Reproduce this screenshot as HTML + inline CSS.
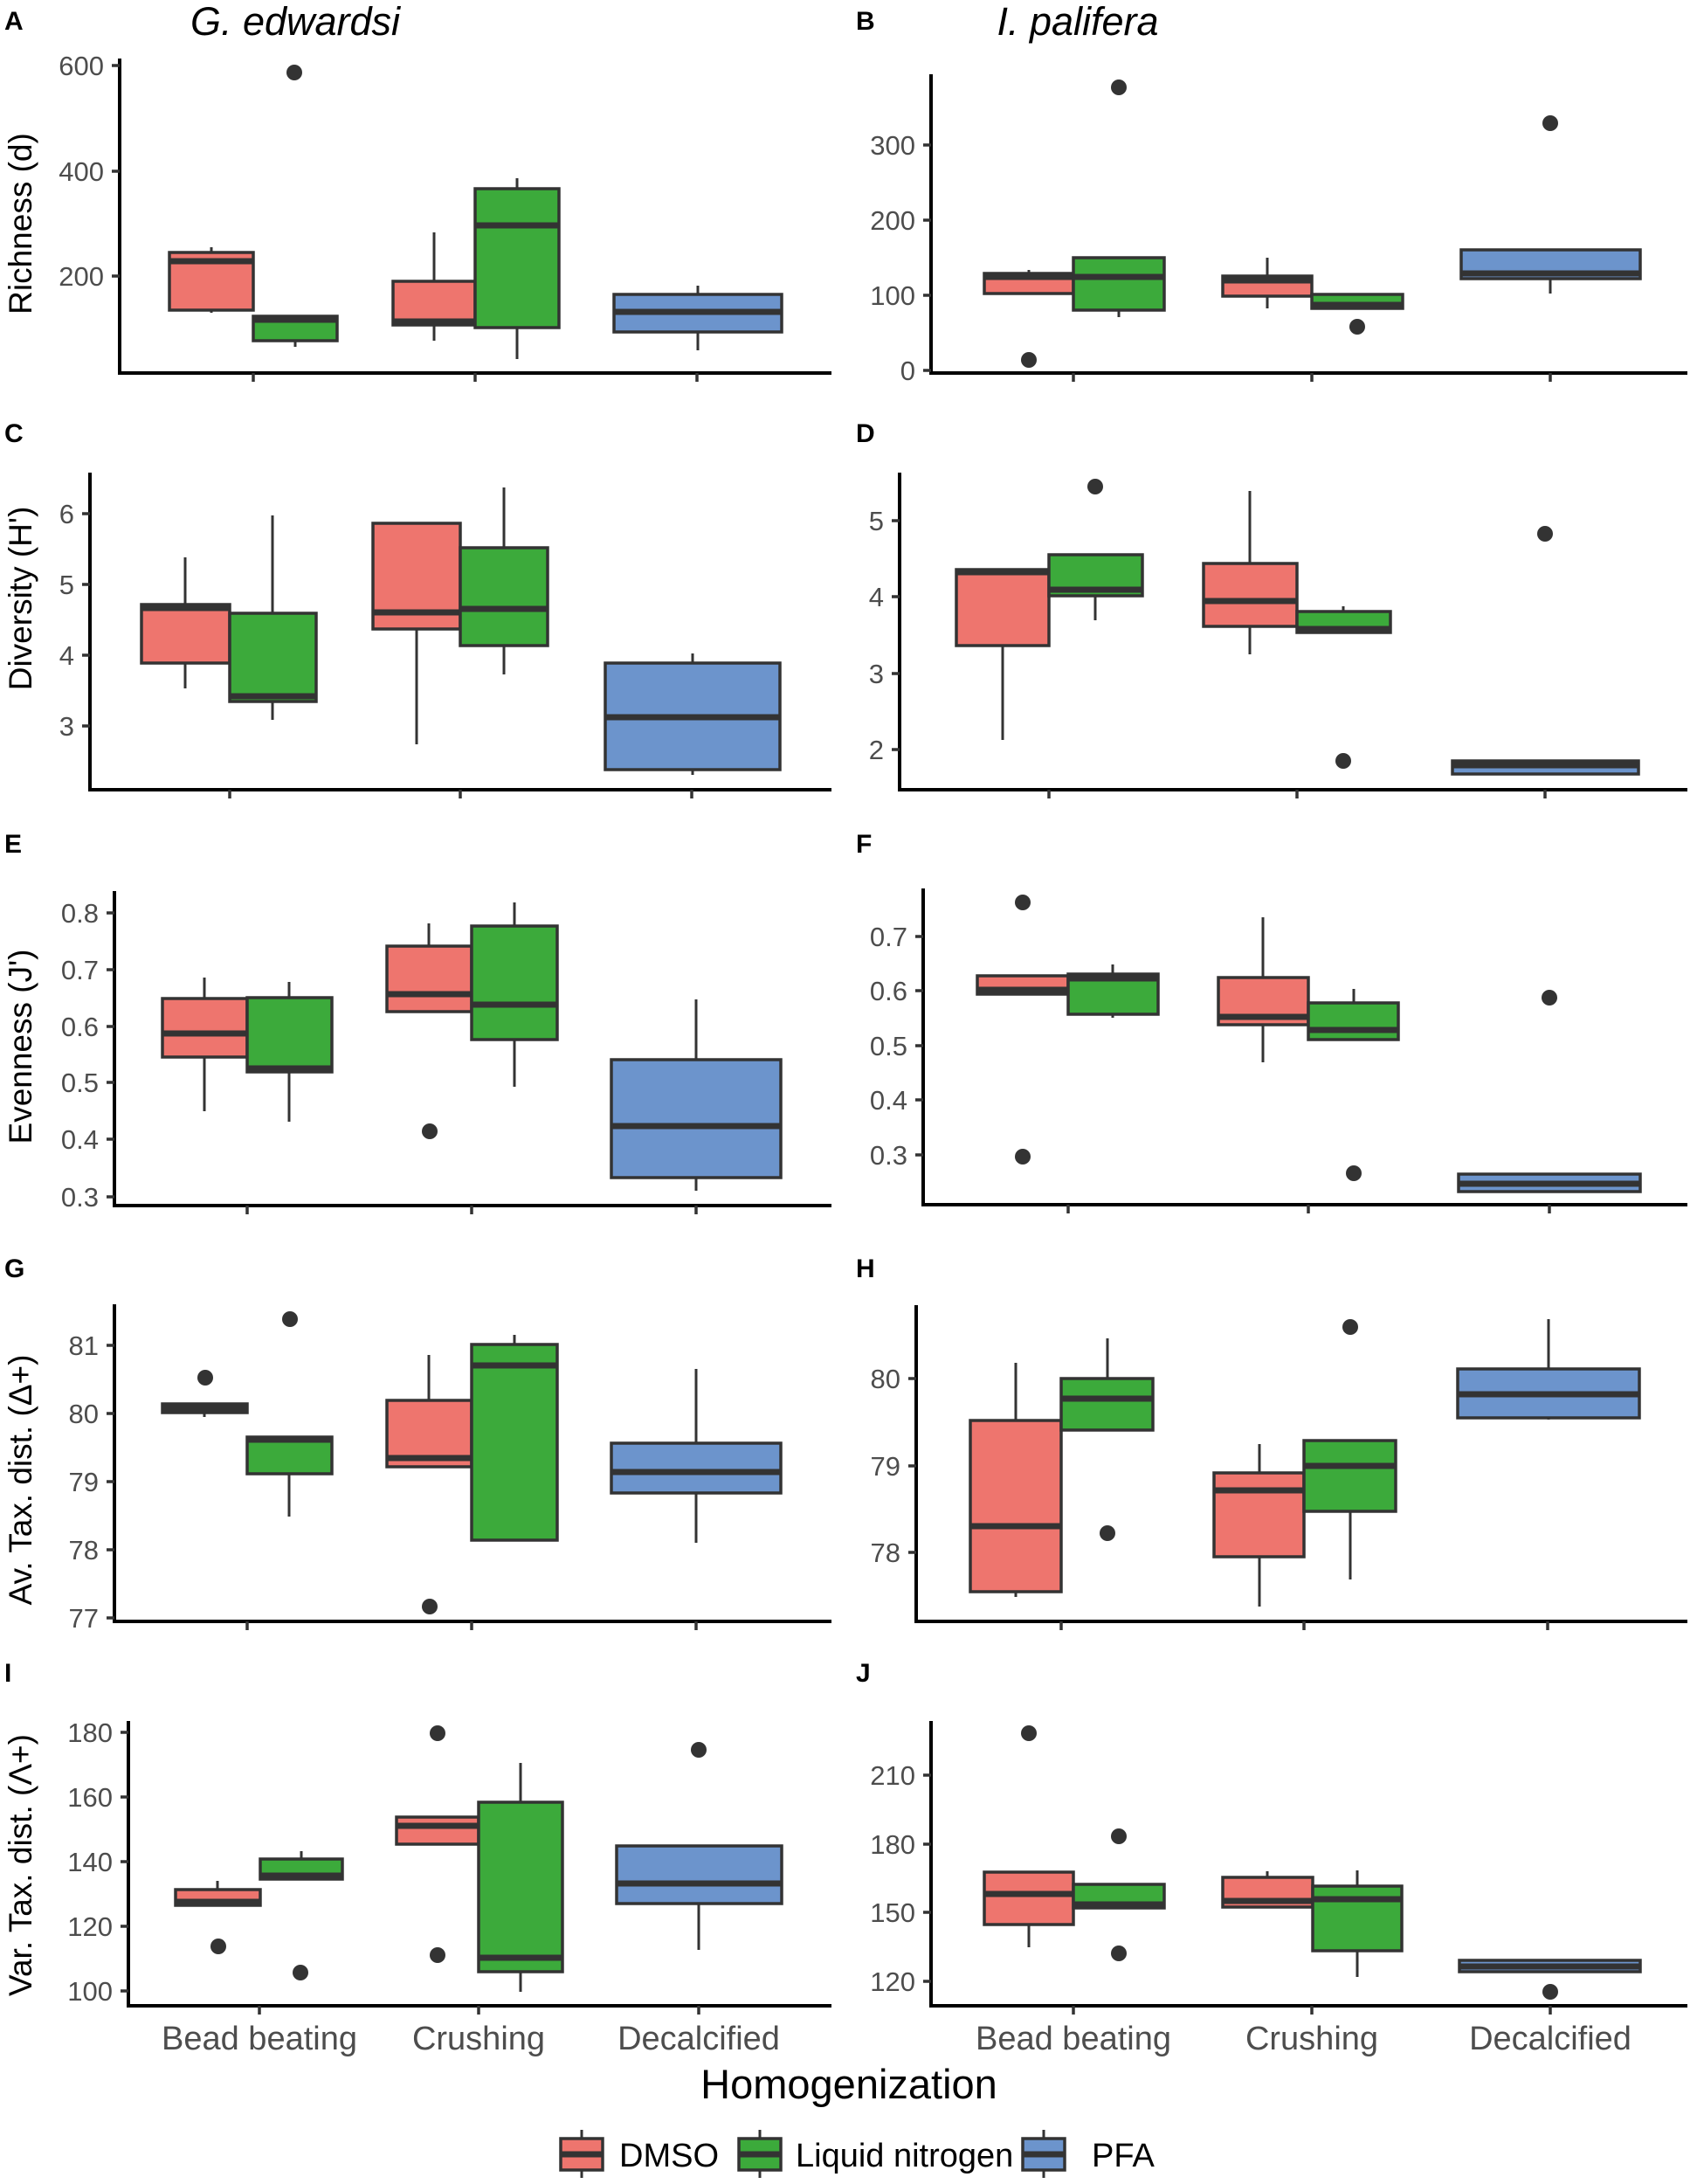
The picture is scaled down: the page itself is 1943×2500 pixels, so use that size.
<!DOCTYPE html>
<html><head><meta charset="utf-8"><style>
html,body{margin:0;padding:0;background:#fff;}
svg{display:block;font-family:"Liberation Sans",sans-serif;}
.t{font-size:31px;fill:#4d4d4d;text-anchor:end;}
.x{font-size:38px;fill:#4d4d4d;text-anchor:middle;}
.yt{font-size:37px;fill:#000;text-anchor:middle;}
.pl{font-size:30px;font-weight:bold;fill:#000;}
.ax{stroke:#000;stroke-width:4;fill:none;}
.tk{stroke:#333;stroke-width:3.5;}
.b{stroke:#333;stroke-width:3.5;}
.w{stroke:#333;stroke-width:3;}
.m{stroke:#333;stroke-width:7;}
.r{fill:#EE756E;}.g{fill:#3CAA3B;}.u{fill:#6C94CC;}
circle{fill:#333;}
</style></head><body>
<svg width="1943" height="2500" viewBox="0 0 1943 2500" xmlns="http://www.w3.org/2000/svg">
<text x="5" y="34" class="pl">A</text>
<text x="980" y="34" class="pl">B</text>
<text x="5" y="506" class="pl">C</text>
<text x="980" y="506" class="pl">D</text>
<text x="5" y="976" class="pl">E</text>
<text x="980" y="976" class="pl">F</text>
<text x="5" y="1462" class="pl">G</text>
<text x="980" y="1462" class="pl">H</text>
<text x="5" y="1925" class="pl">I</text>
<text x="980" y="1925" class="pl">J</text>
<text x="338" y="40" font-size="45" font-style="italic" text-anchor="middle">G. edwardsi</text>
<text x="1234" y="40" font-size="45" font-style="italic" text-anchor="middle">I. palifera</text>

<text class="yt" transform="translate(36,256) rotate(-90)">Richness (d)</text>
<text class="yt" transform="translate(36,685) rotate(-90)">Diversity (H')</text>
<text class="yt" transform="translate(36,1198) rotate(-90)">Evenness (J')</text>
<text class="yt" transform="translate(36,1694) rotate(-90)">Av. Tax. dist. (Δ+)</text>
<text class="yt" transform="translate(36,2135) rotate(-90)">Var. Tax. dist. (Λ+)</text>

<!-- A -->
<path class="ax" d="M137,67 V427 H952"/>
<path class="tk" d="M128,75H137M128,196H137M128,316H137M290,427V437M544,427V437M798,427V437"/>
<text class="t" x="119" y="86">600</text><text class="t" x="119" y="207">400</text><text class="t" x="119" y="327">200</text>
<path class="w" d="M242,283V358M338,390V397M497,266V390M592,204V411M799,327V401"/>
<rect class="r b" x="194" y="289" width="96" height="66"/><path class="m" d="M194,299H290"/>
<rect class="g b" x="290" y="362" width="96" height="28"/><path class="m" d="M290,366H386"/>
<rect class="r b" x="450" y="322" width="94" height="50"/><path class="m" d="M450,368H544"/>
<rect class="g b" x="544" y="216" width="96" height="159"/><path class="m" d="M544,258H640"/>
<rect class="u b" x="703" y="337" width="192" height="43"/><path class="m" d="M703,357H895"/>
<circle cx="337" cy="83" r="9"/>

<!-- B -->
<path class="ax" d="M1066,85 V427 H1932"/>
<path class="tk" d="M1057,166H1066M1057,252H1066M1057,338H1066M1057,424H1066M1229,427V437M1502,427V437M1775,427V437"/>
<text class="t" x="1048" y="177">300</text><text class="t" x="1048" y="263">200</text><text class="t" x="1048" y="349">100</text><text class="t" x="1048" y="435">0</text>
<path class="w" d="M1178,309V336M1281,295V363M1451,295V353M1775,319V336"/>
<rect class="r b" x="1127" y="313" width="102" height="23"/><path class="m" d="M1127,317H1229"/>
<rect class="g b" x="1229" y="295" width="104" height="60"/><path class="m" d="M1229,317H1333"/>
<rect class="r b" x="1400" y="316" width="102" height="23"/><path class="m" d="M1400,321H1502"/>
<rect class="g b" x="1502" y="337" width="104" height="16"/><path class="m" d="M1502,349H1606"/>
<rect class="u b" x="1673" y="286" width="205" height="33"/><path class="m" d="M1673,313H1878"/>
<circle cx="1178" cy="412" r="9"/><circle cx="1281" cy="100" r="9"/><circle cx="1554" cy="374" r="9"/><circle cx="1775" cy="141" r="9"/>

<!-- C -->
<path class="ax" d="M103,541 V904 H952"/>
<path class="tk" d="M94,588H103M94,669H103M94,750H103M94,831H103M263,904V914M527,904V914M792,904V914"/>
<text class="t" x="85" y="599">6</text><text class="t" x="85" y="680">5</text><text class="t" x="85" y="761">4</text><text class="t" x="85" y="842">3</text>
<path class="w" d="M212,638V788M312,590V824M477,720V852M577,558V772M793,748V887"/>
<rect class="r b" x="162" y="692" width="101" height="67"/><path class="m" d="M162,696H263"/>
<rect class="g b" x="263" y="702" width="99" height="101"/><path class="m" d="M263,797H362"/>
<rect class="r b" x="427" y="599" width="100" height="121"/><path class="m" d="M427,701H527"/>
<rect class="g b" x="527" y="627" width="100" height="112"/><path class="m" d="M527,697H627"/>
<rect class="u b" x="693" y="759" width="200" height="122"/><path class="m" d="M693,821H893"/>

<!-- D -->
<path class="ax" d="M1030,541 V904 H1932"/>
<path class="tk" d="M1021,596H1030M1021,683H1030M1021,771H1030M1021,858H1030M1201,904V914M1485,904V914M1769,904V914"/>
<text class="t" x="1012" y="607">5</text><text class="t" x="1012" y="694">4</text><text class="t" x="1012" y="782">3</text><text class="t" x="1012" y="869">2</text>
<path class="w" d="M1148,739V847M1254,682V710M1431,562V749M1538,694V700"/>
<rect class="r b" x="1095" y="652" width="106" height="87"/><path class="m" d="M1095,655H1201"/>
<rect class="g b" x="1201" y="635" width="107" height="47"/><path class="m" d="M1201,675H1308"/>
<rect class="r b" x="1378" y="645" width="107" height="72"/><path class="m" d="M1378,688H1485"/>
<rect class="g b" x="1485" y="700" width="107" height="24"/><path class="m" d="M1485,720H1592"/>
<rect class="u b" x="1663" y="871" width="213" height="15"/><path class="m" d="M1663,876H1876"/>
<circle cx="1254" cy="557" r="9"/><circle cx="1538" cy="871" r="9"/><circle cx="1769" cy="611" r="9"/>

<!-- E -->
<path class="ax" d="M131,1020 V1380 H952"/>
<path class="tk" d="M122,1045H131M122,1110H131M122,1175H131M122,1239H131M122,1304H131M122,1370H131M283,1380V1390M540,1380V1390M797,1380V1390"/>
<text class="t" x="113" y="1056">0.8</text><text class="t" x="113" y="1121">0.7</text><text class="t" x="113" y="1186">0.6</text><text class="t" x="113" y="1250">0.5</text><text class="t" x="113" y="1315">0.4</text><text class="t" x="113" y="1381">0.3</text>
<path class="w" d="M234,1119V1272M331,1124V1284M491,1057V1083M589,1033V1244M797,1144V1363"/>
<rect class="r b" x="186" y="1143" width="97" height="67"/><path class="m" d="M186,1183H283"/>
<rect class="g b" x="283" y="1142" width="97" height="85"/><path class="m" d="M283,1223H380"/>
<rect class="r b" x="443" y="1083" width="97" height="75"/><path class="m" d="M443,1138H540"/>
<rect class="g b" x="540" y="1060" width="98" height="130"/><path class="m" d="M540,1150H638"/>
<rect class="u b" x="700" y="1213" width="194" height="135"/><path class="m" d="M700,1289H894"/>
<circle cx="492" cy="1295" r="9"/>

<!-- F -->
<path class="ax" d="M1057,1017 V1379 H1932"/>
<path class="tk" d="M1048,1072H1057M1048,1134H1057M1048,1197H1057M1048,1259H1057M1048,1322H1057M1223,1379V1389M1498,1379V1389M1774,1379V1389"/>
<text class="t" x="1039" y="1083">0.7</text><text class="t" x="1039" y="1145">0.6</text><text class="t" x="1039" y="1208">0.5</text><text class="t" x="1039" y="1270">0.4</text><text class="t" x="1039" y="1333">0.3</text>
<path class="w" d="M1274,1104V1165M1446,1050V1216M1550,1132V1148"/>
<rect class="r b" x="1119" y="1117" width="104" height="21"/><path class="m" d="M1119,1133H1223"/>
<rect class="g b" x="1223" y="1115" width="103" height="46"/><path class="m" d="M1223,1120H1326"/>
<rect class="r b" x="1395" y="1119" width="103" height="54"/><path class="m" d="M1395,1164H1498"/>
<rect class="g b" x="1498" y="1148" width="103" height="42"/><path class="m" d="M1498,1179H1601"/>
<rect class="u b" x="1670" y="1344" width="208" height="20"/><path class="m" d="M1670,1355H1878"/>
<circle cx="1171" cy="1033" r="9"/><circle cx="1171" cy="1324" r="9"/><circle cx="1550" cy="1343" r="9"/><circle cx="1774" cy="1142" r="9"/>

<!-- G -->
<path class="ax" d="M131,1493 V1856 H952"/>
<path class="tk" d="M122,1540H131M122,1618H131M122,1696H131M122,1774H131M122,1852H131M283,1856V1866M540,1856V1866M797,1856V1866"/>
<text class="t" x="113" y="1551">81</text><text class="t" x="113" y="1629">80</text><text class="t" x="113" y="1707">79</text><text class="t" x="113" y="1785">78</text><text class="t" x="113" y="1863">77</text>
<path class="w" d="M234,1617V1622M331,1687V1736M491,1551V1603M589,1528V1539M797,1567V1766"/>
<rect class="r b" x="186" y="1607" width="97" height="10"/><path class="m" d="M186,1612H283"/>
<rect class="g b" x="283" y="1645" width="97" height="42"/><path class="m" d="M283,1648H380"/>
<rect class="r b" x="443" y="1603" width="97" height="76"/><path class="m" d="M443,1669H540"/>
<rect class="g b" x="540" y="1539" width="98" height="224"/><path class="m" d="M540,1563H638"/>
<rect class="u b" x="700" y="1652" width="194" height="57"/><path class="m" d="M700,1685H894"/>
<circle cx="235" cy="1577" r="9"/><circle cx="332" cy="1510" r="9"/><circle cx="492" cy="1839" r="9"/>

<!-- H -->
<path class="ax" d="M1049,1494 V1856 H1932"/>
<path class="tk" d="M1040,1578H1049M1040,1678H1049M1040,1777H1049M1215,1856V1866M1493,1856V1866M1772,1856V1866"/>
<text class="t" x="1031" y="1589">80</text><text class="t" x="1031" y="1689">79</text><text class="t" x="1031" y="1788">78</text>
<path class="w" d="M1163,1560V1828M1268,1532V1578M1442,1653V1839M1546,1730V1808M1773,1510V1625"/>
<rect class="r b" x="1111" y="1626" width="104" height="196"/><path class="m" d="M1111,1747H1215"/>
<rect class="g b" x="1215" y="1578" width="105" height="59"/><path class="m" d="M1215,1601H1320"/>
<rect class="r b" x="1390" y="1686" width="103" height="96"/><path class="m" d="M1390,1706H1493"/>
<rect class="g b" x="1493" y="1649" width="105" height="81"/><path class="m" d="M1493,1678H1598"/>
<rect class="u b" x="1669" y="1567" width="208" height="56"/><path class="m" d="M1669,1596H1877"/>
<circle cx="1268" cy="1755" r="9"/><circle cx="1546" cy="1519" r="9"/>

<!-- I -->
<path class="ax" d="M147,1970 V2296 H952"/>
<path class="tk" d="M138,1983H147M138,2057H147M138,2131H147M138,2205H147M138,2279H147M297,2296V2306M548,2296V2306M800,2296V2306"/>
<text class="t" x="129" y="1994">180</text><text class="t" x="129" y="2068">160</text><text class="t" x="129" y="2142">140</text><text class="t" x="129" y="2216">120</text><text class="t" x="129" y="2290">100</text>
<path class="w" d="M249,2153V2163M345,2119V2128M596,2018V2280M800,2179V2232"/>
<rect class="r b" x="201" y="2163" width="97" height="18"/><path class="m" d="M201,2177H298"/>
<rect class="g b" x="298" y="2128" width="94" height="23"/><path class="m" d="M298,2147H392"/>
<rect class="r b" x="454" y="2080" width="94" height="31"/><path class="m" d="M454,2090H548"/>
<rect class="g b" x="548" y="2063" width="96" height="194"/><path class="m" d="M548,2241H644"/>
<rect class="u b" x="706" y="2113" width="189" height="66"/><path class="m" d="M706,2156H895"/>
<circle cx="250" cy="2228" r="9"/><circle cx="344" cy="2258" r="9"/><circle cx="501" cy="1984" r="9"/><circle cx="501" cy="2238" r="9"/><circle cx="800" cy="2003" r="9"/>

<!-- J -->
<path class="ax" d="M1066,1970 V2296 H1932"/>
<path class="tk" d="M1057,2032H1066M1057,2111H1066M1057,2189H1066M1057,2268H1066M1229,2296V2306M1502,2296V2306M1775,2296V2306"/>
<text class="t" x="1048" y="2043">210</text><text class="t" x="1048" y="2122">180</text><text class="t" x="1048" y="2200">150</text><text class="t" x="1048" y="2279">120</text>
<path class="w" d="M1178,2203V2229M1451,2142V2149M1554,2141V2263"/>
<rect class="r b" x="1127" y="2143" width="102" height="60"/><path class="m" d="M1127,2168H1229"/>
<rect class="g b" x="1229" y="2157" width="104" height="27"/><path class="m" d="M1229,2180H1333"/>
<rect class="r b" x="1400" y="2149" width="103" height="34"/><path class="m" d="M1400,2176H1503"/>
<rect class="g b" x="1503" y="2159" width="102" height="74"/><path class="m" d="M1503,2174H1605"/>
<rect class="u b" x="1671" y="2244" width="207" height="13"/><path class="m" d="M1671,2251H1878"/>
<circle cx="1178" cy="1984" r="9"/><circle cx="1281" cy="2102" r="9"/><circle cx="1281" cy="2236" r="9"/><circle cx="1775" cy="2280" r="9"/>

<text class="x" x="297" y="2346">Bead beating</text>
<text class="x" x="548" y="2346">Crushing</text>
<text class="x" x="800" y="2346">Decalcified</text>
<text class="x" x="1229" y="2346">Bead beating</text>
<text class="x" x="1502" y="2346">Crushing</text>
<text class="x" x="1775" y="2346">Decalcified</text>
<text x="972" y="2402" font-size="47" text-anchor="middle">Homogenization</text>

<path class="w" d="M666,2438V2493M870,2438V2493M1195,2438V2493"/>
<rect class="r b" x="642" y="2448" width="48" height="36"/><path class="m" d="M642,2466H690"/>
<text x="709" y="2480" font-size="38">DMSO</text>
<rect class="g b" x="846" y="2448" width="48" height="36"/><path class="m" d="M846,2466H894"/>
<text x="911" y="2480" font-size="38">Liquid nitrogen</text>
<rect class="u b" x="1171" y="2448" width="48" height="36"/><path class="m" d="M1171,2466H1219"/>
<text x="1250" y="2480" font-size="38">PFA</text>
</svg>
</body></html>
